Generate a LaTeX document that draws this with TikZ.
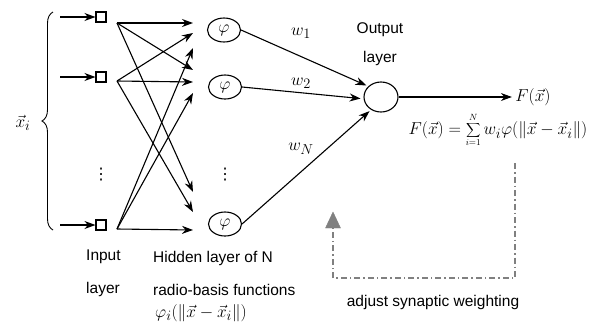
\documentclass[tikz,border=0pt]{standalone}
\usepackage{fontspec}
\setmainfont{Liberation Sans}
\newfontfamily\djv{DejaVu Sans}
\usetikzlibrary{arrows.meta,decorations.pathreplacing,shapes.geometric}
\begin{document}
\begin{tikzpicture}[x=1pt,y=-1pt,
  every node/.style={font=\fontsize{15.5}{18}\selectfont},
  mth/.style={font=\fontsize{19}{22}\selectfont},
  dts/.style={font=\djv\fontsize{16}{18}\selectfont,inner sep=0pt},
  insq/.style={draw,line width=1.1pt,minimum size=10pt,inner sep=0pt},
  hid/.style={draw,ellipse,line width=1.1pt,minimum width=33pt,minimum height=24pt,inner sep=0pt,mth},
  outn/.style={draw,ellipse,line width=1.1pt,minimum width=34pt,minimum height=30pt,inner sep=0pt},
  conn/.style={line width=1.1pt,-{Stealth[length=11pt,width=8pt]}},
  fb/.style={line width=1.2pt,gray,dash pattern=on 6pt off 3pt on 1.5pt off 3pt},
  lbl/.style={inner sep=0pt,anchor=west}
]
\useasboundingbox (0,0) rectangle (595,330);
% input side
\node[mth] (xi) at (23,123) {$\vec{x}_{i}$};
\draw[line width=0.9pt,decorate,decoration={brace,amplitude=11pt}] (53,230) -- (53,12) coordinate[pos=0.5] (bt);
\coordinate (a1) at (60,17);
\coordinate (a2) at (60,77);
\coordinate (aN) at (60,225);
\node[insq] (i1) at (101,17) {};
\node[insq] (i2) at (101,77) {};
\node[insq] (iN) at (101,225) {};
\draw[conn] (a1) -- (i1);
\draw[conn] (a2) -- (i2);
\draw[conn] (aN) -- (iN);
\node[dts] (vd1) at (101,175) {⋮};
% line starts
\coordinate (s1) at (117,23);
\coordinate (s2) at (117,81);
\coordinate (sN) at (117,229);
% targets
\coordinate (t11) at (193,23);
\coordinate (t12) at (193,33);
\coordinate (t13) at (193,48);
\coordinate (t21) at (193,70);
\coordinate (t22) at (193,82);
\coordinate (t23) at (193,93);
\coordinate (tN1) at (193,192);
\coordinate (tN2) at (193,212);
\coordinate (tN3) at (193,230);
\draw[conn] (s1) -- (t11);
\draw[conn] (s1) -- (t21);
\draw[conn] (s1) -- (tN1);
\draw[conn] (s2) -- (t12);
\draw[conn] (s2) -- (t22);
\draw[conn] (s2) -- (tN2);
\draw[conn] (sN) -- (t13);
\draw[conn] (sN) -- (t23);
\draw[conn] (sN) -- (tN3);
% hidden
\node[hid] (h1) at (224,30) {$\varphi$};
\node[hid] (h2) at (225,87) {$\varphi$};
\node[hid] (hN) at (225,224) {$\varphi$};
\node[dts] (vd2) at (225,175) {⋮};
% output
\node[outn] (o) at (381,97) {};
\node (ot1) at (380,30) {Output};
\node (ot2) at (380,58) {layer};
\draw[conn,shorten >=2pt] (h1.east) -- (o.140);
\draw[conn,shorten >=3pt] (h2.east) -- (o.186);
\draw[conn,shorten >=2pt] (hN.east) -- (o.232);
\node[mth] (w1) at (301,33) {$w_{1}$};
\node[mth] (w2) at (301,83) {$w_{2}$};
\node[mth] (wN) at (301,149) {$w_{N}$};
\node[mth] (F) at (533,97) {$F(\vec{x})$};
\draw[conn] (o.east) -- (F.west);
\node[mth] (form) at (498,130) {$F(\vec{x})=\displaystyle\sum_{\scriptscriptstyle i=1}^{\scriptscriptstyle N} w_{i}\varphi(\|\vec{x}-\vec{x}_{i}\|)$};
% feedback
\coordinate (f1) at (515,163);
\coordinate (f2) at (515,278);
\coordinate (f3) at (333,278);
\coordinate (f4) at (333,212);
\draw[fb] (f1) -- (f2) -- (f3) -- (f4);
\draw[gray,fill=gray] (f4) -- ++(-7.5,16) -- ++(15,0) -- cycle;
\node (adj) at (433,302) {adjust synaptic weighting};
% bottom labels
\node[lbl] (in1) at (86,257) {Input};
\node[lbl] (in2) at (86,289) {layer};
\node[lbl] (hd1) at (153,258) {Hidden layer of N};
\node[lbl] (hd2) at (153,290) {radio-basis functions};
\node[lbl,mth] (hd3) at (155,313) {$\varphi_{i}(\|\vec{x}-\vec{x}_{i}\|)$};
\end{tikzpicture}
\end{document}
